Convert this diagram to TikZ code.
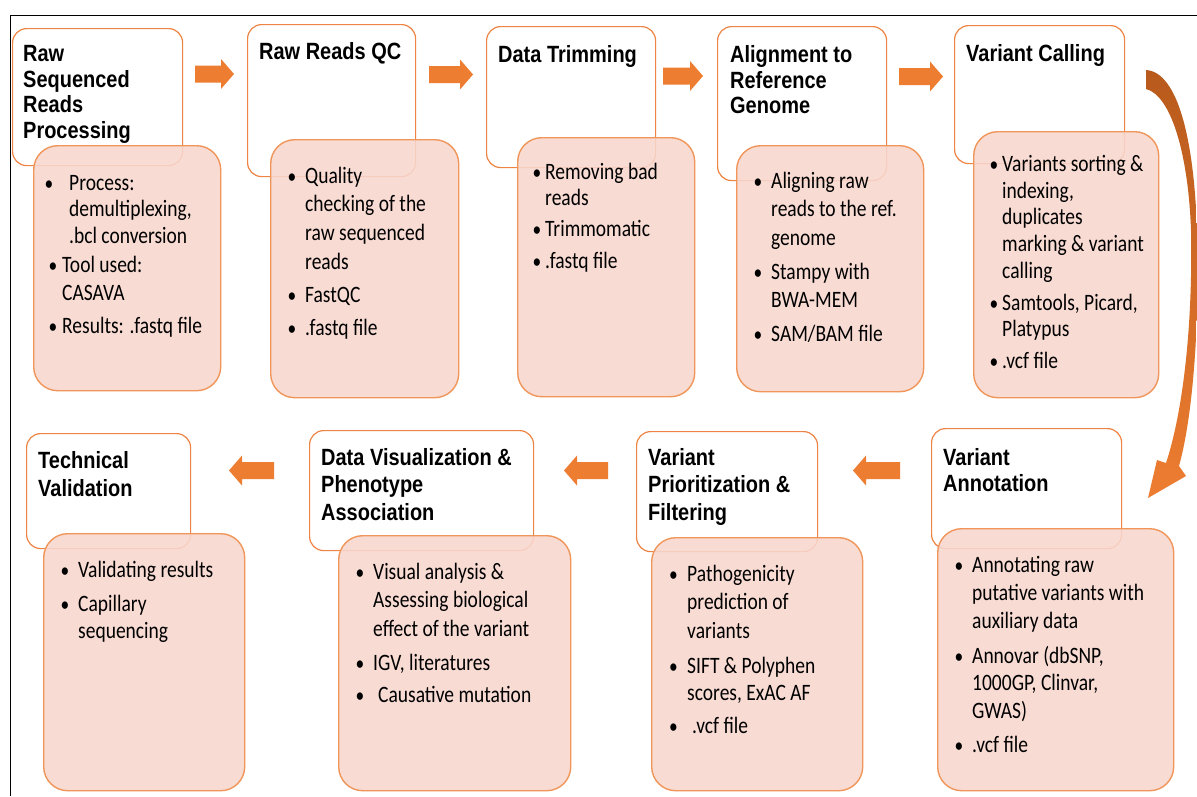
\documentclass[tikz,border=0pt]{standalone}
\usepackage{fontspec}
\newfontfamily\ttlfont[FakeStretch=0.85]{Liberation Sans}
\newfontfamily\bodyfont[FakeStretch=0.83]{Carlito}
\definecolor{org}{HTML}{ED7D31}
\definecolor{orgdk}{HTML}{B85A1C}
\definecolor{pinkf}{HTML}{F8D7CE}
\definecolor{pinkb}{HTML}{F0965A}
\definecolor{ttlb}{HTML}{EE8443}
\tikzset{
 tbox/.style={draw=ttlb, fill=white, line width=1.2pt, rounded corners=14pt, anchor=north west, inner sep=0pt},
 dbox/.style={draw=pinkb, fill=pinkf, fill opacity=0.88, line width=1.4pt, rounded corners=24pt, anchor=north west, inner sep=0pt},
 ttext/.style={anchor=base west, inner sep=0pt},
 btext/.style={anchor=base west, inner sep=0pt},
 bdot/.style={anchor=base, inner sep=0pt, font=\bodyfont\fontsize{21}{28}\selectfont},
 blockarrow/.style={fill=org},
 frameline/.style={line width=1.8pt, black},
}
% lines of text whose baseline is the first line's
\newcommand\lns[1]{\begin{tabular}[t]{@{}l@{}}#1\end{tabular}}
% name, x, first baseline y, baselineskip, text
\newcommand\ttl[5]{%
 \node[ttext, font=\ttlfont\bfseries\fontsize{23.5}{#4}\selectfont] (#1) at (#2,#3) {\lns{#5}};}
% name, dot x, text x, first baseline y, baselineskip, text
\newcommand\itm[6]{%
 \node[btext, font=\bodyfont\fontsize{23.5}{#5}\selectfont] (#1) at (#3,#4) {\lns{#6}};
 \node[bdot] (#1d) at (#2,#4) {•};}
% name, start x, y, tip x, head offset (-13 right, 13 left)
\newcommand\barrow[5]{%
 \coordinate (#1s) at (#2,#3); \coordinate (#1e) at (#4,#3);
 \fill[blockarrow] ([yshift=8.5pt]#1s) -- ([xshift=#5pt,yshift=8.5pt]#1e) -- ([xshift=#5pt,yshift=15pt]#1e) -- (#1e)
   -- ([xshift=#5pt,yshift=-15pt]#1e) -- ([xshift=#5pt,yshift=-8.5pt]#1e) -- ([yshift=-8.5pt]#1s) -- cycle;}
\begin{document}
\begin{tikzpicture}[x=1pt,y=-1pt]
\useasboundingbox (0,0) rectangle (1197,796);
\clip (0,0) rectangle (1197,796);
\fill[white] (0,0) rectangle (1197,796);

% title boxes
\node[tbox, minimum width=170pt, minimum height=137pt] (t1) at (12,28) {};
\node[tbox, minimum width=168pt, minimum height=152pt] (t2) at (247,24) {};
\node[tbox, minimum width=169pt, minimum height=141pt] (t3) at (486,26) {};
\node[tbox, minimum width=169pt, minimum height=154pt] (t4) at (717,26) {};
\node[tbox, minimum width=170pt, minimum height=138pt] (t5) at (954,25) {};
\node[tbox, minimum width=190pt, minimum height=120pt] (t6) at (931,428) {};
\node[tbox, minimum width=181pt, minimum height=120pt] (t7) at (636,431) {};
\node[tbox, minimum width=224pt, minimum height=120pt] (t8) at (309,430) {};
\node[tbox, minimum width=164pt, minimum height=115pt] (t9) at (26,433) {};

% detail boxes
\node[dbox, minimum width=187pt, minimum height=245pt] (d1) at (33,145) {};
\node[dbox, minimum width=188pt, minimum height=258pt] (d2) at (270,139) {};
\node[dbox, minimum width=177pt, minimum height=259pt] (d3) at (517,137) {};
\node[dbox, minimum width=187pt, minimum height=246pt] (d4) at (736,145) {};
\node[dbox, minimum width=185pt, minimum height=266pt] (d5) at (973,131) {};
\node[dbox, minimum width=236pt, minimum height=262pt] (d6) at (937,528) {};
\node[dbox, minimum width=211pt, minimum height=253pt] (d7) at (651,537) {};
\node[dbox, minimum width=232pt, minimum height=255pt] (d8) at (338,535) {};
\node[dbox, minimum width=201pt, minimum height=257pt] (d9) at (43,533) {};

% titles
\ttl{l1}{23}{61.7}{25.5}{Raw\\Sequenced\\Reads\\Processing}
\ttl{l2}{259}{59.5}{25.5}{Raw Reads QC}
\ttl{l3}{498}{62}{25.5}{Data Trimming}
\ttl{l4}{730}{62.7}{25.5}{Alignment to\\Reference\\Genome}
\ttl{l5}{966}{61.5}{25.5}{Variant Calling}
\ttl{l6}{943}{465}{26.8}{Variant\\Annotation}
\ttl{l7}{648}{465.7}{27.2}{Variant\\Prioritization \&\\Filtering}
\ttl{l8}{321}{465.7}{27.2}{Data Visualization \&\\Phenotype\\Association}
\ttl{l9}{38}{468}{28}{Technical\\Validation}

% items, top row
\itm{i11}{49}{69}{190}{26.5}{Process:\\demultiplexing,\\.bcl conversion}
\itm{i12}{53}{62}{272}{28}{Tool used:\\CASAVA}
\itm{i13}{53}{62}{333}{28}{Results: .fastq file}

\itm{i21}{292}{305}{183}{28.7}{Quality\\checking of the\\raw sequenced\\reads}
\itm{i22}{292}{305}{302.5}{28}{FastQC}
\itm{i23}{292}{305}{335.5}{28}{.fastq file}

\itm{i31}{537}{545}{179.3}{25.7}{Removing bad\\reads}
\itm{i32}{537}{545}{236.7}{28}{Trimmomatic}
\itm{i33}{537}{545}{268}{28}{.fastq file}

\itm{i41}{758}{771}{188}{28.5}{Aligning raw\\reads to the ref.\\genome}
\itm{i42}{758}{771}{279}{28}{Stampy with\\BWA-MEM}
\itm{i43}{758}{771}{341.7}{28}{SAM/BAM file}

\itm{i51}{994}{1002}{171.7}{26.6}{Variants sorting \&\\indexing,\\duplicates\\marking \& variant\\calling}
\itm{i52}{994}{1002}{310}{26.7}{Samtools, Picard,\\Platypus}
\itm{i53}{994}{1002}{368.3}{28}{.vcf file}

% items, bottom row
\itm{i61}{959}{972}{572.7}{27.7}{Annotating raw\\putative variants with\\auxiliary data}
\itm{i62}{959}{972}{663}{27.5}{Annovar (dbSNP,\\1000GP, Clinvar,\\GWAS)}
\itm{i63}{959}{972}{752}{28}{.vcf file}

\itm{i71}{673.5}{687}{581.7}{28.2}{Pathogenicity\\prediction of\\variants}
\itm{i72}{673.5}{687}{673}{27}{SIFT \& Polyphen\\scores, ExAC AF}
\itm{i73}{673.5}{692}{733}{28}{.vcf file}

\itm{i81}{360}{373}{579}{28.8}{Visual analysis \&\\Assessing biological\\effect of the variant}
\itm{i82}{360}{373}{670}{28}{IGV, literatures}
\itm{i83}{360}{378}{702.7}{28}{Causative mutation}

\itm{i91}{65}{78}{577}{28}{Validating results}
\itm{i92}{65}{78}{611}{27}{Capillary\\sequencing}

% block arrows
\barrow{a1}{195}{74}{234}{-13}
\barrow{a2}{429}{74.5}{473}{-13}
\barrow{a3}{663}{76}{703}{-13}
\barrow{a4}{899}{76.5}{943}{-13}
\barrow{b1}{274}{470.5}{229}{13}
\barrow{b2}{608}{470.5}{564}{13}
\barrow{b3}{900}{470.5}{853}{13}

% curved arrow from Variant Calling down to Variant Annotation
\shade[top color=orgdk, bottom color=org]
 (1146,70) .. controls (1178,72) and (1194,140) .. (1197,230)
 .. controls (1200,330) and (1192,420) .. (1179,466)
 -- (1186,476) -- (1148,498) -- (1157,460) -- (1166,463)
 .. controls (1182,415) and (1193,330) .. (1191,230)
 .. controls (1188,150) and (1170,95) .. (1146,89) -- cycle;

% frame lines
\coordinate (fr1) at (1197,15.5);
\coordinate (fr2) at (10.5,15.5);
\coordinate (fr3) at (10.5,796);
\draw[frameline] (fr1) -- (fr2) -- (fr3);
\end{tikzpicture}
\end{document}
